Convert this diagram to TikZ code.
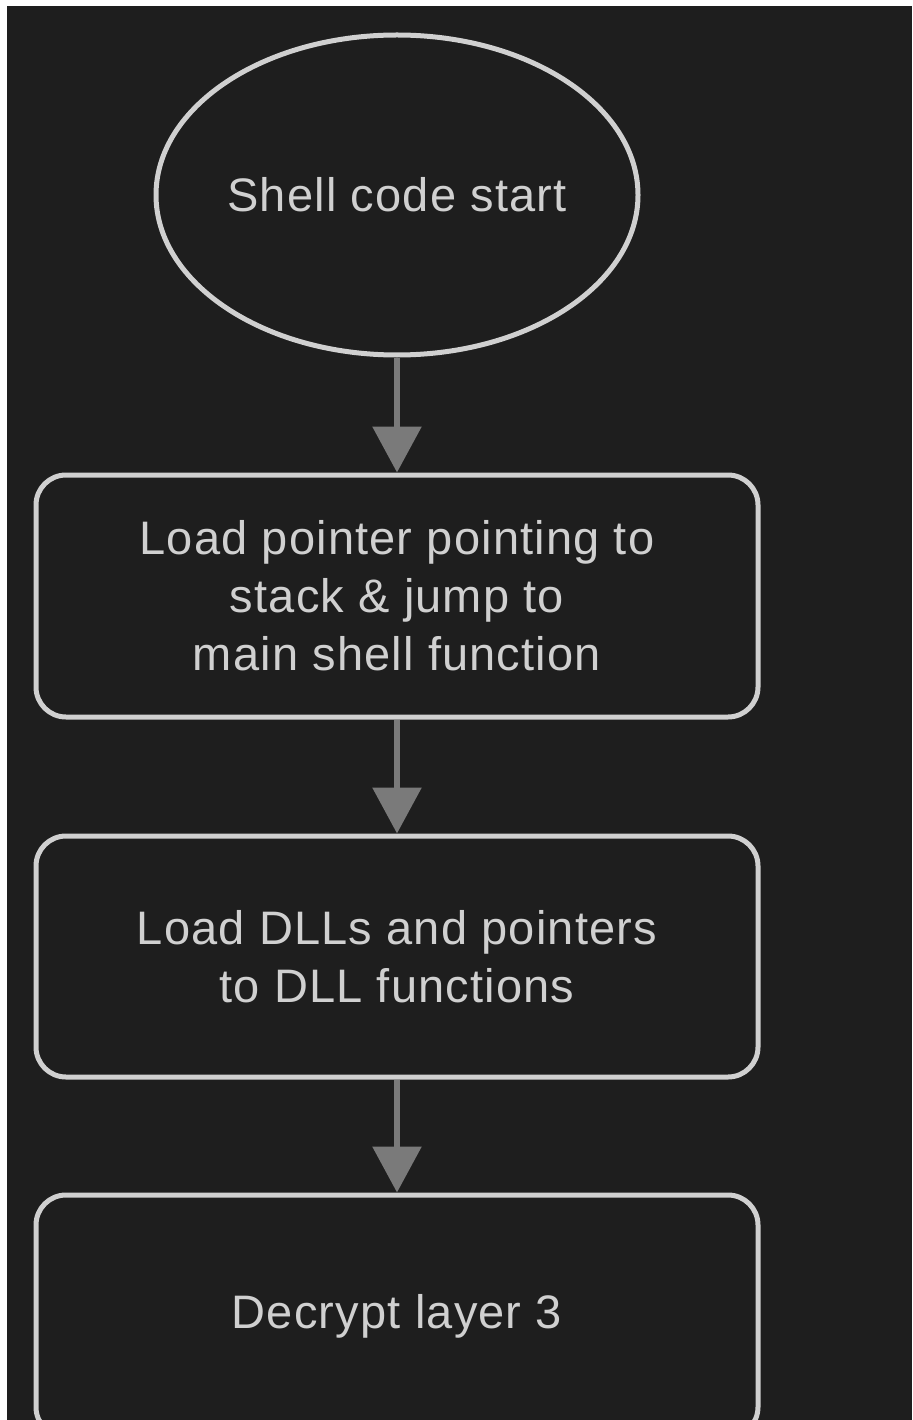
\documentclass[tikz,border=0pt]{standalone}
\usepackage{fontspec}
\setmainfont{Liberation Sans}[LetterSpace=2.5]
\usetikzlibrary{shapes.geometric,arrows.meta}
\definecolor{bgc}{HTML}{1E1E1E}
\definecolor{edgec}{HTML}{D0D0D0}
\definecolor{arrc}{HTML}{7A7A7A}
\tikzset{
  stepbox/.style={draw=edgec, line width=5pt, fill=bgc, rounded corners=30pt, text=edgec, align=center, font=\fontsize{47}{58}\selectfont},
  startnode/.style={ellipse, draw=edgec, line width=5pt, fill=bgc, text=edgec, font=\fontsize{47}{58}\selectfont},
  flow/.style={draw=arrc, line width=6pt, -{Triangle[width=48pt,length=46pt]}}
}
\begin{document}
\begin{tikzpicture}[x=1pt,y=-1pt]
\useasboundingbox (0,0) rectangle (912,1420);
\fill[white] (0,0) rectangle (912,1420);
\clip (0,0) rectangle (912,1420);
\fill[bgc] (7,6) rectangle (912,1420);
\node[startnode, minimum width=482pt, minimum height=320pt, inner sep=0pt] (s) at (397,195) {Shell code start};
\node[stepbox, minimum width=722pt, minimum height=242pt, inner sep=0pt] (a) at (397,596) {Load pointer pointing to\\stack \& jump to\\main shell function};
\node[stepbox, minimum width=722pt, minimum height=241pt, inner sep=0pt] (b) at (397,956.5) {Load DLLs and pointers\\to DLL functions};
\node[stepbox, minimum width=722pt, minimum height=242pt, inner sep=0pt] (c) at (397,1316) {Decrypt layer 3};
\draw[flow] (s.south) -- (a.north);
\draw[flow] (a.south) -- (b.north);
\draw[flow] (b.south) -- (c.north);
\end{tikzpicture}
\end{document}
